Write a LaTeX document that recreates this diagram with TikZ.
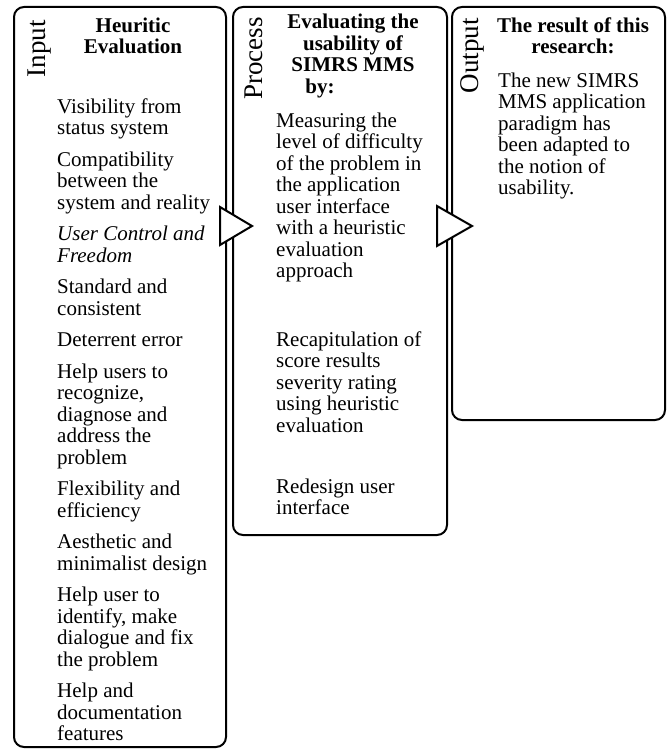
\documentclass[tikz,border=0pt]{standalone}
\usepackage{fontspec}
\setmainfont{Liberation Serif}
\usetikzlibrary{shapes.geometric}

\begin{document}
\begin{tikzpicture}[x=1pt, y=-1pt,
    panel/.style={draw, line width=2pt, rounded corners=10pt, minimum width=#1, inner sep=0pt},
    sidelabel/.style={rotate=90, anchor=base east, inner sep=0pt, font=\fontsize{27}{27}\selectfont},
    headtext/.style={anchor=north, align=center, inner sep=0pt, font=\fontsize{21}{21.5}\selectfont\bfseries},
    bodytext/.style={anchor=north west, align=left, inner sep=0pt, font=\fontsize{21}{21.5}\selectfont},
    flowtip/.style={draw, line width=2pt, fill=white, line join=miter}
]
\useasboundingbox (0,0) rectangle (670,749);

% Panels
\node[panel=212pt, minimum height=740pt] (inbox) at (120,377) {};
\node[panel=214pt, minimum height=528pt] (procbox) at (340,271) {};
\node[panel=213pt, minimum height=413pt] (outbox) at (558.5,213.5) {};

% Side labels
\node[sidelabel] (inlbl) at (45,20) {Input};
\node[sidelabel] (proclbl) at (262,17) {Process};
\node[sidelabel] (outlbl) at (478,18) {Output};

% Headings
\node[headtext] (inhead) at (133,17.5) {Heuritic\\Evaluation};
\node[headtext] (prochead) at (353,14) {Evaluating the\\usability of\\SIMRS MMS\\by:\hspace*{66pt}};
\node[headtext] (outhead) at (573,17.5) {The result of this\\research:};

% Input items
\node[bodytext] (inlist) at (57,98.5) {%
    Visibility from\\status system\\[10pt]
    Compatibility\\between the\\system and reality\\[10pt]
    \textit{User Control and}\\\textit{Freedom}\\[10pt]
    Standard and\\consistent\\[10pt]
    Deterrent error\\[10pt]
    Help users to\\recognize,\\diagnose and\\address the\\problem\\[10pt]
    Flexibility and\\efficiency\\[10pt]
    Aesthetic and\\minimalist design\\[10pt]
    Help user to\\identify, make\\dialogue and fix\\the problem\\[10pt]
    Help and\\documentation\\features};

% Process steps
\node[bodytext] (proclist) at (276,112.5) {%
    Measuring the\\level of difficulty\\of the problem in\\the application\\user interface\\with a heuristic\\evaluation\\approach\\[47pt]
    Recapitulation of\\score results\\severity rating\\using heuristic\\evaluation\\[39.5pt]
    Redesign user\\interface};

% Output result
\node[bodytext] (outlist) at (498,72.5) {%
    The new SIMRS\\MMS application\\paradigm has\\been adapted to\\the notion of\\usability.};

% Flow arrows
\draw[flowtip] (220,207) -- (252,226) -- (220,245) -- cycle;
\draw[flowtip] (437,206) -- (472,226) -- (437,246) -- cycle;
\end{tikzpicture}
\end{document}
